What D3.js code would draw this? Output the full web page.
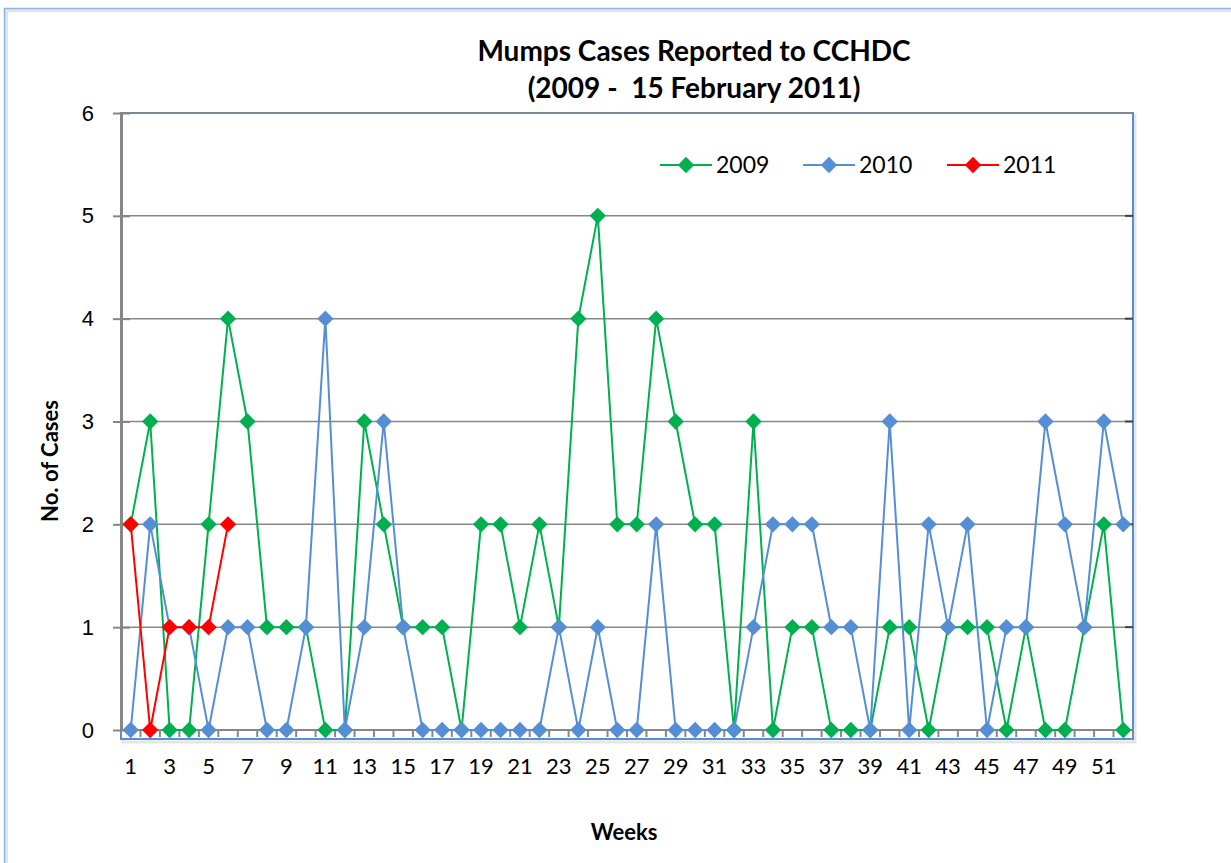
<html>
<head>
<script src="https://d3js.org/d3.v7.min.js"></script>
<style>
  body { margin: 0; background: #fff; }
  svg { font-family: Lato, "Open Sans", sans-serif; }
</style>
</head>
<body>
<svg width="1231" height="863" id="chart"></svg>
<script>
  // weeks 1..52
  var weeks = d3.range(1, 53);
  var yTicks = [0, 1, 2, 3, 4, 5, 6];
  var seriesNames = ["2009", "2010", "2011"];
  var seriesColors = ["#00b050", "#558ed5", "#ff0000"];

  var cases2009 = [2, 3, 0, 0, 2, 4, 3, 1, 1, 1, 0, 0, 3, 2, 1, 1, 1, 0, 2, 2, 1, 2, 1, 4, 5, 2,
                   2, 4, 3, 2, 2, 0, 3, 0, 1, 1, 0, 0, 0, 1, 1, 0, 1, 1, 1, 0, 1, 0, 0, 1, 2, 0];
  var cases2010 = [0, 2, 1, 1, 0, 1, 1, 0, 0, 1, 4, 0, 1, 3, 1, 0, 0, 0, 0, 0, 0, 0, 1, 0, 1, 0,
                   0, 2, 0, 0, 0, 0, 1, 2, 2, 2, 1, 1, 0, 3, 0, 2, 1, 2, 0, 1, 1, 3, 2, 1, 3, 2];
  var cases2011 = [2, 0, 1, 1, 1, 2];

  var allSeries = [cases2009, cases2010, cases2011];

  var svg = d3.select("#chart");
  var plot = {left: 121, right: 1133, top: 113, bottom: 730};

  var x = d3.scaleBand().domain(weeks).range([plot.left, plot.right]);
  var y = d3.scaleLinear().domain([0, 6]).range([plot.bottom, plot.top]);

  // outer chart border
  svg.append("rect")
    .attr("x", 6).attr("y", 10).attr("width", 1240).attr("height", 870)
    .attr("fill", "none").attr("stroke", "#e3e3e3").attr("stroke-width", 4);
  svg.append("rect")
    .attr("x", 4.5).attr("y", 8.5).attr("width", 1240).attr("height", 870)
    .attr("fill", "none").attr("stroke", "#8eb4e3").attr("stroke-width", 1.5);

  // plot area border (blue) with soft shadow
  svg.append("rect")
    .attr("x", plot.left + 2).attr("y", plot.top + 2)
    .attr("width", plot.right - plot.left).attr("height", 10 + plot.bottom - plot.top)
    .attr("fill", "none").attr("stroke", "#e6e6e6").attr("stroke-width", 3);
  svg.append("rect")
    .attr("x", plot.left).attr("y", plot.top)
    .attr("width", plot.right - plot.left).attr("height", 9 + plot.bottom - plot.top)
    .attr("fill", "#fff").attr("stroke", "#558ed5").attr("stroke-width", 2);

  // gridlines
  svg.append("g").selectAll("line").data(yTicks.filter(function(d){ return d > 0; })).enter()
    .append("line")
      .attr("x1", plot.left).attr("x2", plot.right)
      .attr("y1", function(d){ return y(d); }).attr("y2", function(d){ return y(d); })
      .attr("stroke", "#878787").attr("stroke-width", 1.5);

  // right side small tick marks
  svg.append("g").selectAll("line").data(yTicks.filter(function(d){ return d > 0 && d < 6; })).enter()
    .append("line")
      .attr("x1", plot.right - 8).attr("x2", plot.right)
      .attr("y1", function(d){ return y(d); }).attr("y2", function(d){ return y(d); })
      .attr("stroke", "#404040").attr("stroke-width", 2);

  // y axis
  var yAxis = svg.append("g")
    .attr("transform", "translate(" + plot.left + ",0)")
    .call(d3.axisLeft(y).tickValues(yTicks).tickFormat(d3.format("d"))
      .tickSize(8).tickSizeOuter(0).tickPadding(19));
  yAxis.select(".domain").attr("stroke", "#868686").attr("stroke-width", 3);
  yAxis.selectAll(".tick line").attr("stroke", "#868686").attr("stroke-width", 2)
    .attr("x1", -8).attr("x2", 9);
  yAxis.selectAll(".tick text").style("font-size", "22px").attr("fill", "#000");

  // x axis baseline and ticks
  var xAxisG = svg.append("g").attr("transform", "translate(0," + plot.bottom + ")");
  xAxisG.append("line")
    .attr("x1", plot.left).attr("x2", plot.right)
    .attr("stroke", "#868686").attr("stroke-width", 2);
  xAxisG.selectAll("line.tk").data(weeks).enter()
    .append("line").attr("class", "tk")
      .attr("x1", function(d){ return x(d) + x.bandwidth(); })
      .attr("x2", function(d){ return x(d) + x.bandwidth(); })
      .attr("y1", 0).attr("y2", 7)
      .attr("stroke", "#868686").attr("stroke-width", 2);
  xAxisG.selectAll("text").data(weeks.filter(function(d){ return d % 2 === 1; })).enter()
    .append("text")
      .attr("x", function(d){ return x(d) + x.bandwidth() / 2; })
      .attr("y", 44)
      .attr("text-anchor", "middle")
      .style("font-size", "22px")
      .text(function(d){ return d; });

  // series lines and diamond markers
  var line = d3.line()
    .x(function(d, i){ return x(weeks[i]) + x.bandwidth() / 2; })
    .y(function(d){ return y(d); });
  var diamond = d3.symbol().type(d3.symbolDiamond2).size(170);

  allSeries.forEach(function(values, s) {
    var g = svg.append("g");
    g.append("path")
      .datum(values)
      .attr("fill", "none")
      .attr("stroke", seriesColors[s])
      .attr("stroke-width", 2)
      .attr("d", line);
    g.selectAll("path.pt").data(values).enter()
      .append("path").attr("class", "pt")
        .attr("transform", function(d, i){
          return "translate(" + (x(weeks[i]) + x.bandwidth() / 2) + "," + y(d) + ")";
        })
        .attr("d", diamond)
        .attr("fill", seriesColors[s]);
  });

  // legend
  var legendX = [660, 803, 947];
  seriesNames.forEach(function(name, s) {
    var lg = svg.append("g").attr("transform", "translate(" + legendX[s] + ",165)");
    lg.append("line").attr("x1", 0).attr("x2", 52)
      .attr("stroke", seriesColors[s]).attr("stroke-width", 2);
    lg.append("path").attr("transform", "translate(26,0)").attr("d", diamond).attr("fill", seriesColors[s]);
    lg.append("text").attr("x", 56).attr("y", 8).style("font-size", "23px").text(name);
  });

  // titles
  svg.append("text").attr("x", 694).attr("y", 61).attr("text-anchor", "middle")
    .style("font-size", "28px").style("font-weight", "bold")
    .text("Mumps Cases Reported to CCHDC");
  svg.append("text").attr("x", 694).attr("y", 98).attr("text-anchor", "middle")
    .style("font-size", "28px").style("font-weight", "bold").style("white-space", "pre")
    .text("(2009 -  15 February 2011)");

  svg.append("text")
    .attr("transform", "translate(58,461) rotate(-90)")
    .attr("text-anchor", "middle")
    .style("font-size", "22px").style("font-weight", "bold")
    .text("No. of Cases");

  svg.append("text").attr("x", 624).attr("y", 840).attr("text-anchor", "middle")
    .style("font-size", "22px").style("font-weight", "bold")
    .text("Weeks");
</script>
</body>
</html>
